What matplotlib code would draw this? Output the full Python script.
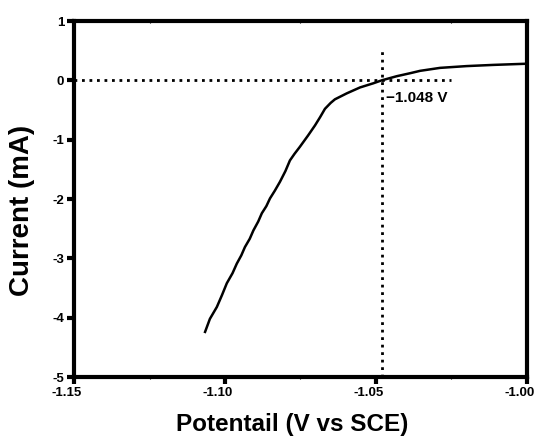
import numpy as np
import matplotlib
matplotlib.use('Agg')
import matplotlib.pyplot as plt
import matplotlib.transforms as mtransforms
from matplotlib.ticker import MultipleLocator, FormatStrFormatter

# ---   DATA   --- #
# Linear sweep trace
POTENTIAL = [
    -1.1066, -1.1050, -1.1027, -1.1010, -1.0994, -1.0975, -1.0961, -1.0946,
    -1.0934, -1.0918, -1.0906, -1.0890, -1.0878, -1.0863, -1.0851, -1.0835,
    -1.0818, -1.0800, -1.0785, -1.0770, -1.0752, -1.0725, -1.0702, -1.0685,
    -1.0669, -1.0650, -1.0636, -1.0597, -1.0553, -1.0509, -1.0481, -1.0431,
    -1.0387, -1.0354, -1.0288, -1.0200, -1.0112, -1.0001
]
CURRENT = [
    -4.24, -4.02, -3.82, -3.62, -3.42, -3.25, -3.09, -2.95,
    -2.81, -2.67, -2.53, -2.38, -2.24, -2.12, -1.99, -1.86,
    -1.71, -1.53, -1.35, -1.24, -1.12, -0.93, -0.76, -0.62,
    -0.48, -0.38, -0.32, -0.22, -0.12, -0.05, 0.00, 0.07,
    0.12, 0.16, 0.21, 0.24, 0.26, 0.28
]
X_TICKS = [-1.15, -1.10, -1.05, -1.00]
Y_TICKS = [1, 0, -1, -2, -3, -4, -5]
ONSET_POTENTIAL = -1.048
ONSET_LABEL = '\u22121.048 V'
X_LABEL = 'Potentail (V vs SCE)'
Y_LABEL = 'Current (mA)'

# ---   PLOT   --- #
plt.rcParams['font.family'] = ['Liberation Sans', 'DejaVu Sans']
plt.rcParams['axes.unicode_minus'] = False

fig = plt.figure(figsize=(5.39, 4.45), dpi=100)
ax = fig.add_axes([0.1373, 0.1528, 0.8404, 0.8000])

# Reference lines through the onset
dots = dict(color='black', lw=2.0, ls=(0, (1, 1.7)), dash_capstyle='butt')
ax.plot([-1.15, -1.025], [0, 0], **dots, zorder=2)
ax.plot([ONSET_POTENTIAL, ONSET_POTENTIAL], [-5, 0.5], **dots, zorder=2)

# Measured curve
ax.plot(POTENTIAL, CURRENT, color='black', lw=1.8, zorder=3)

ax.text(ONSET_POTENTIAL + 0.0012, -0.29, ONSET_LABEL, fontsize=11,
        fontweight='bold', ha='left', va='center')

# Format axes
ax.set_xlim(-1.15, -1.00)
ax.set_ylim(-5, 1)
ax.set_xticks(X_TICKS)
ax.set_yticks(Y_TICKS)
ax.xaxis.set_minor_locator(MultipleLocator(0.025))
ax.xaxis.set_major_formatter(FormatStrFormatter('%.2f'))
ax.yaxis.set_major_formatter(FormatStrFormatter('%d'))
ax.tick_params(axis='both', which='major', direction='out', length=5,
               width=3, labelsize=9.5, pad=2)
ax.tick_params(axis='x', which='minor', direction='inout', length=3,
               width=0.8, top=True)
# x tick labels sit a little left of their ticks in the original
shift = mtransforms.ScaledTranslation(-7 / 100, 0, fig.dpi_scale_trans)
for lab in ax.get_xticklabels():
    lab.set_fontweight('bold')
    lab.set_transform(lab.get_transform() + shift)
for lab in ax.get_yticklabels():
    lab.set_fontweight('bold')
for axis in ['top', 'bottom', 'left', 'right']:
    ax.spines[axis].set_linewidth(3)

ax.set_xlabel(X_LABEL, fontsize=17.5, fontweight='bold')
ax.set_ylabel(Y_LABEL, fontsize=20, fontweight='bold')
ax.xaxis.set_label_coords(0.481, -0.101)
ax.yaxis.set_label_coords(-0.086, 0.469)

fig.savefig('out.png', dpi=100)
